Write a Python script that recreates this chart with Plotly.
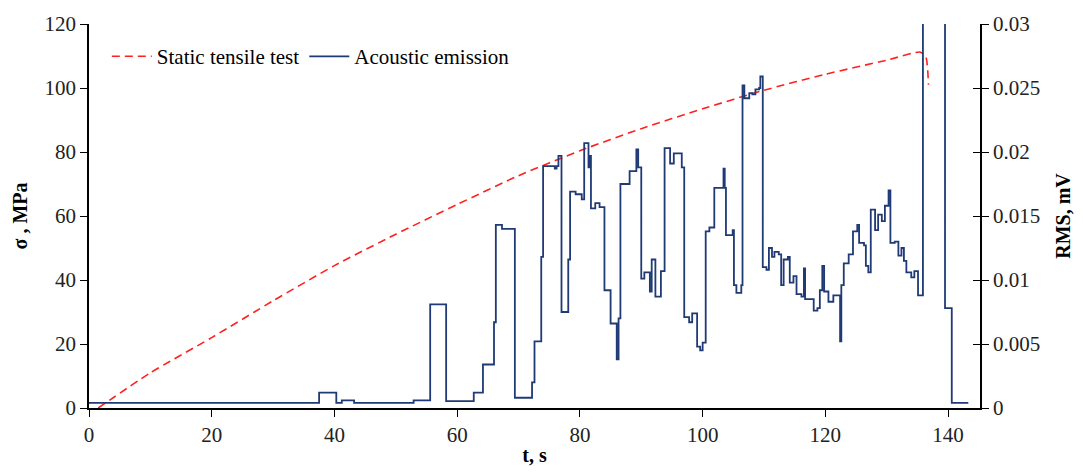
import plotly.graph_objects as go

# Static tensile test: time (s) and stress (MPa)
t_static = [1.5, 10, 20, 30, 40, 50, 60, 70, 80, 90, 100, 110, 120, 130, 135.5, 136.4, 136.8]
sigma_static = [0, 11, 22, 33.5, 44.5, 54.3, 63.6, 72.6, 80.4, 87.3, 93.5, 99.3, 104.3, 108.7, 111.2, 109.5, 101]

# Acoustic emission: step start times (s) and RMS (mV)
t_ae = [0.0, 37.5, 40.3, 41.2, 43.2, 52.9, 55.6, 58.2, 62.7, 64.2, 66.0, 66.3, 67.3, 69.4, 72.2, 72.6,
        73.7, 74.0, 75.9, 76.2, 76.5, 77.0, 78.1, 78.4, 79.3, 80.3, 80.7, 81.4, 81.6, 81.8, 82.5, 83.2,
        84.0, 85.0, 86.0, 86.3, 86.6, 88.1, 89.2, 89.5, 90.0, 90.5, 91.4, 91.7, 92.3, 93.2, 93.8, 94.7,
        95.3, 96.6, 97.0, 97.8, 98.3, 99.1, 99.6, 100.0, 100.5, 101.1, 101.9, 103.4, 103.6, 103.8, 104.9,
        105.1, 105.5, 106.3, 106.5, 106.8, 107.6, 108.1, 108.6, 109.2, 109.4, 109.8, 110.4, 110.8, 111.3,
        111.7, 112.4, 112.8, 113.2, 113.9, 114.2, 114.8, 115.3, 116.1, 116.5, 116.7, 117.5, 118.1, 118.7,
        119.1, 119.5, 119.8, 120.5, 121.3, 122.4, 122.6, 123.0, 123.8, 124.5, 125.2, 125.5, 126.3, 126.6,
        127.0, 127.4, 128.1, 128.6, 129.2, 129.7, 130.3, 130.6, 131.3, 131.9, 132.4, 132.8, 133.2, 134.0,
        134.5, 135.1, 135.9, 139.5, 140.6, 143.3]
rms_ae = [0.0004, 0.0012, 0.0004, 0.0006, 0.0004, 0.0006, 0.0081, 0.00053, 0.0012, 0.0034, 0.0067, 0.0143,
          0.0140, 0.0008, 0.0020, 0.0052, 0.0118, 0.0189, 0.0187, 0.0189, 0.0197, 0.0075, 0.0116, 0.0169,
          0.0167, 0.0163, 0.0207, 0.0188, 0.0197, 0.0156, 0.0160, 0.0157, 0.0092, 0.0066, 0.0038, 0.0070,
          0.0175, 0.0185, 0.0202, 0.0188, 0.0101, 0.0106, 0.0091, 0.0116, 0.0087, 0.0107, 0.0203, 0.0191,
          0.0199, 0.0188, 0.0071, 0.0067, 0.0074, 0.0048, 0.0045, 0.0051, 0.0138, 0.0141, 0.0172, 0.0187,
          0.0172, 0.0135, 0.0139, 0.0096, 0.0090, 0.0096, 0.0252, 0.0242, 0.0246, 0.0245, 0.0249, 0.0250,
          0.0259, 0.0110, 0.0108, 0.0125, 0.0118, 0.0122, 0.0120, 0.0096, 0.0116, 0.0118, 0.0098, 0.0103,
          0.0089, 0.0087, 0.0109, 0.0085, 0.0085, 0.0076, 0.0078, 0.0092, 0.0111, 0.0091, 0.0083, 0.0088,
          0.0052, 0.0096, 0.0113, 0.0120, 0.0138, 0.0143, 0.0129, 0.0127, 0.0111, 0.0106, 0.0155, 0.0139,
          0.0151, 0.0146, 0.0158, 0.0170, 0.0129, 0.0130, 0.0119, 0.0125, 0.0115, 0.0106, 0.0102, 0.0107,
          0.0088, 0.0600, 0.0078, 0.0004, 0.0004]

x_ticks = [0, 20, 40, 60, 80, 100, 120, 140]
y_ticks = [0, 20, 40, 60, 80, 100, 120]
y2_ticks = [0, 0.005, 0.01, 0.015, 0.02, 0.025, 0.03]
y2_labels = ["0", "0.005", "0.01", "0.015", "0.02", "0.025", "0.03"]

FONT = "Times New Roman, Liberation Serif, serif"
FS = 21

fig = go.Figure()
fig.add_trace(go.Scatter(
    x=t_static, y=sigma_static, mode="lines", name="Static tensile test",
    line=dict(color="#FF2020", width=1.6, dash="8px,5px", shape="spline", smoothing=0.6),
    yaxis="y",
))
fig.add_trace(go.Scatter(
    x=t_ae, y=rms_ae, mode="lines", name="Acoustic emission",
    line=dict(color="#1F3A75", width=1.8, shape="hv"),
    yaxis="y2",
))

axis_common = dict(showgrid=False, zeroline=False, showline=True, linecolor="black", linewidth=1.5,
                   ticks="outside", ticklen=7, tickwidth=1.3, tickcolor="black",
                   tickfont=dict(family=FONT, size=FS, color="#222222"))

fig.update_layout(
    width=1083, height=475,
    margin=dict(l=89, r=102, t=20, b=58),
    plot_bgcolor="white", paper_bgcolor="white",
    font=dict(family=FONT, size=FS, color="black"),
    showlegend=True,
    legend=dict(orientation="h", x=0.02, y=0.915, xanchor="left", yanchor="middle",
                bgcolor="rgba(0,0,0,0)", font=dict(family=FONT, size=FS, color="black"),
                itemwidth=40, tracegroupgap=0),
    xaxis=dict(range=[0, 145.2], tickvals=x_ticks, **axis_common,
               title=dict(text="<b>t, s</b>", font=dict(family=FONT, size=FS - 1), standoff=2)),
    yaxis=dict(range=[0, 120], tickvals=y_ticks, **axis_common,
               title=dict(text="<b>σ , MPa</b>", font=dict(family=FONT, size=FS - 1), standoff=12)),
    yaxis2=dict(range=[0, 0.03], tickvals=y2_ticks, ticktext=y2_labels, overlaying="y", side="right",
                anchor="x", **axis_common,
                title=dict(text="<b>RMS, mV</b>", font=dict(family=FONT, size=FS - 1), standoff=17)),
    yaxis3=dict(range=[0, 0.03], tickvals=y2_ticks, overlaying="y", side="right", anchor="x",
                showgrid=False, zeroline=False, showline=False, showticklabels=False,
                ticks="inside", ticklen=7, tickwidth=1.3, tickcolor="black"),
)
# invisible trace so the inner tick marks of the right axis are drawn
fig.add_trace(go.Scatter(x=[None], y=[None], yaxis="y3", showlegend=False, hoverinfo="skip"))

fig.write_html("out.html")
